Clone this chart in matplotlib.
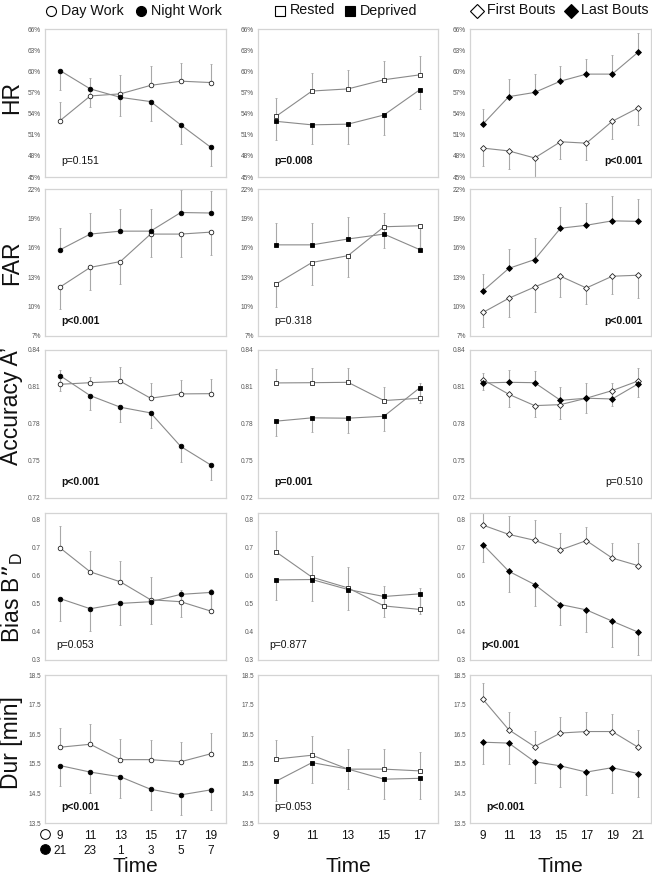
import numpy as np
import matplotlib
matplotlib.use("Agg")
from matplotlib import pyplot as plt
from matplotlib.lines import Line2D

plt.rcParams['font.family'] = ['Liberation Sans', 'DejaVu Sans']

# time points
t_work = [9, 11, 13, 15, 17, 19]
t_sleep = [9, 11, 13, 15, 17]
t_bouts = [9, 11, 13, 15, 17, 19, 21]
night_clock = ['21', '23', '1', '3', '5', '7']

# HR (%)
hr_day = [53.0, 56.5, 56.8, 58.0, 58.6, 58.4]
hr_day_err = [2.6, 2.6, 2.7, 2.7, 2.6, 2.7]
hr_night = [60.1, 57.5, 56.3, 55.7, 52.4, 49.2]
hr_night_err = [2.7, 2.6, 2.7, 2.7, 2.7, 2.7]
hr_rested = [53.6, 57.2, 57.5, 58.8, 59.5]
hr_rested_err = [2.6, 2.6, 2.7, 2.7, 2.7]
hr_deprived = [52.9, 52.4, 52.5, 53.8, 57.4]
hr_deprived_err = [2.7, 2.7, 2.75, 2.8, 2.8]
hr_first = [49.1, 48.7, 47.7, 50.0, 49.8, 52.9, 54.8]
hr_first_err = [2.5, 2.5, 2.7, 2.4, 2.4, 2.5, 2.4]
hr_last = [52.5, 56.4, 57.0, 58.6, 59.6, 59.6, 62.7]
hr_last_err = [2.1, 2.5, 2.6, 2.1, 2.2, 2.75, 2.7]

# FAR (%)
far_day = [12.0, 14.0, 14.6, 17.4, 17.4, 17.6]
far_day_err = [2.25, 2.3, 2.3, 2.3, 2.3, 2.3]
far_night = [15.8, 17.4, 17.7, 17.7, 19.6, 19.55]
far_night_err = [2.2, 2.2, 2.3, 2.3, 2.3, 2.2]
far_rested = [12.3, 14.5, 15.2, 18.15, 18.25]
far_rested_err = [2.3, 2.3, 2.2, 2.2, 2.2]
far_deprived = [16.3, 16.3, 16.9, 17.4, 15.8]
far_deprived_err = [2.2, 2.2, 2.2, 2.2, 2.2]
far_first = [9.4, 10.85, 12.0, 13.1, 11.9, 13.1, 13.2]
far_first_err = [1.5, 1.95, 2.5, 2.1, 1.6, 1.85, 2.3]
far_last = [11.6, 13.9, 14.8, 18.0, 18.3, 18.75, 18.7]
far_last_err = [1.7, 2.0, 2.15, 2.2, 2.3, 2.55, 2.3]

# Accuracy A'
acc_day = [0.8122, 0.8135, 0.8146, 0.8009, 0.8044, 0.8046]
acc_day_err = [0.0116, 0.0043, 0.012, 0.012, 0.0113, 0.012]
acc_night = [0.8192, 0.803, 0.7936, 0.789, 0.7618, 0.7467]
acc_night_err = [0.0124, 0.0119, 0.012, 0.012, 0.0124, 0.012]
acc_rested = [0.8133, 0.8135, 0.8138, 0.799, 0.8009]
acc_rested_err = [0.0113, 0.012, 0.0113, 0.0113, 0.012]
acc_deprived = [0.7823, 0.785, 0.7847, 0.7863, 0.8095]
acc_deprived_err = [0.012, 0.0116, 0.012, 0.0116, 0.0124]
acc_first = [0.816, 0.8041, 0.7949, 0.7957, 0.8009, 0.8071, 0.8149]
acc_first_err = [0.0084, 0.010, 0.0094, 0.0113, 0.0116, 0.0127, 0.013]
acc_last = [0.8133, 0.8138, 0.8135, 0.7992, 0.8009, 0.8003, 0.8125]
acc_last_err = [0.008, 0.010, 0.0095, 0.0108, 0.012, 0.013, 0.0126]

# Bias B''D
bias_day = [0.698, 0.613, 0.5775, 0.514, 0.507, 0.4735]
bias_day_err = [0.077, 0.0755, 0.0755, 0.079, 0.043, 0.078]
bias_night = [0.518, 0.482, 0.501, 0.507, 0.533, 0.540]
bias_night_err = [0.079, 0.079, 0.078, 0.078, 0.079, 0.074]
bias_rested = [0.684, 0.594, 0.556, 0.492, 0.4795]
bias_rested_err = [0.0755, 0.0745, 0.0755, 0.072, 0.0745]
bias_deprived = [0.5845, 0.5857, 0.5503, 0.5255, 0.535]
bias_deprived_err = [0.073, 0.0745, 0.073, 0.0745, 0.073]
bias_first = [0.779, 0.746, 0.725, 0.691, 0.724, 0.662, 0.635]
bias_first_err = [0.045, 0.064, 0.072, 0.061, 0.0485, 0.0545, 0.0815]
bias_last = [0.710, 0.615, 0.568, 0.497, 0.478, 0.438, 0.399]
bias_last_err = [0.061, 0.073, 0.078, 0.071, 0.077, 0.093, 0.083]

# Dur [min]
dur_day = [16.06, 16.16, 15.64, 15.64, 15.57, 15.84]
dur_day_err = [0.66, 0.67, 0.69, 0.68, 0.66, 0.70]
dur_night = [15.44, 15.22, 15.06, 14.64, 14.45, 14.62]
dur_night_err = [0.69, 0.70, 0.70, 0.69, 0.68, 0.67]
dur_rested = [15.66, 15.79, 15.32, 15.32, 15.26]
dur_rested_err = [0.66, 0.66, 0.68, 0.67, 0.65]
dur_deprived = [14.91, 15.54, 15.32, 14.98, 15.01]
dur_deprived_err = [0.65, 0.69, 0.67, 0.67, 0.70]
dur_first = [17.68, 16.65, 16.08, 16.54, 16.59, 16.59, 16.06]
dur_first_err = [0.54, 0.59, 0.54, 0.55, 0.65, 0.60, 0.58]
dur_last = [16.23, 16.2, 15.57, 15.43, 15.22, 15.37, 15.17]
dur_last_err = [0.73, 0.69, 0.72, 0.73, 0.76, 0.85, 0.78]

row_names = ["HR", "FAR", "Accuracy A\u2019", "Bias B\u201d$_\\mathregular{D}$", "Dur [min]"]
group_names = [("Day Work", "Night Work"), ("Rested", "Deprived"),
               ("First Bouts", "Last Bouts")]
p_labels = [["p=0.151", "p=0.008", "p<0.001"],
            ["p<0.001", "p=0.318", "p<0.001"],
            ["p<0.001", "p=0.001", "p=0.510"],
            ["p=0.053", "p=0.877", "p<0.001"],
            ["p<0.001", "p=0.053", "p<0.001"]]
p_bold = [[False, True, True], [True, False, True], [True, True, False],
          [False, False, True], [True, False, True]]
# does the open-symbol series carry the upward error bar?
open_up = [[True, True, False], [False, False, False], [True, True, False],
           [True, True, True], [True, True, True]]

data = [
    [(hr_day, hr_day_err, hr_night, hr_night_err),
     (hr_rested, hr_rested_err, hr_deprived, hr_deprived_err),
     (hr_first, hr_first_err, hr_last, hr_last_err)],
    [(far_day, far_day_err, far_night, far_night_err),
     (far_rested, far_rested_err, far_deprived, far_deprived_err),
     (far_first, far_first_err, far_last, far_last_err)],
    [(acc_day, acc_day_err, acc_night, acc_night_err),
     (acc_rested, acc_rested_err, acc_deprived, acc_deprived_err),
     (acc_first, acc_first_err, acc_last, acc_last_err)],
    [(bias_day, bias_day_err, bias_night, bias_night_err),
     (bias_rested, bias_rested_err, bias_deprived, bias_deprived_err),
     (bias_first, bias_first_err, bias_last, bias_last_err)],
    [(dur_day, dur_day_err, dur_night, dur_night_err),
     (dur_rested, dur_rested_err, dur_deprived, dur_deprived_err),
     (dur_first, dur_first_err, dur_last, dur_last_err)],
]
times = [t_work, t_sleep, t_bouts]
markers = ['o', 's', 'D']
msizes = [3.3, 3.5, 3.0]
leg_ms = [7.2, 7.0, 6.8]
xlims = [(8, 20), (8, 18), (8, 22)]

yticks = [[45, 48, 51, 54, 57, 60, 63, 66],
          [7, 10, 13, 16, 19, 22],
          [0.72, 0.75, 0.78, 0.81, 0.84],
          [0.3, 0.4, 0.5, 0.6, 0.7, 0.8],
          [13.5, 14.5, 15.5, 16.5, 17.5, 18.5]]
ylims = [(45, 66), (7, 22), (0.72, 0.84), (0.3, 0.822), (13.5, 18.5)]
yfmt = ['{:.0f}%', '{:.0f}%', '{:.2f}', '{:.1f}', '{:.1f}']

W, H = 652.0, 875.0
col_left = [45, 258, 470]
col_right = [226, 438, 651]
row_top = [29, 189, 350, 513, 675]
row_bot = [177, 336, 498, 660, 823]
label_y = [97, 263, 406, 598, 743]
# legend key centres (px) for open / filled symbol in each column
leg_x = [(51, 141), (280, 350), (477, 571)]

fig = plt.figure(figsize=(W / 100, H / 100), dpi=100)

line_c = '#8a8a8a'
err_c = '#a8a8a8'
spine_c = '#d4d4d4'

for r in range(5):
    for c in range(3):
        ax = fig.add_axes([col_left[c] / W, 1 - row_bot[r] / H,
                           (col_right[c] - col_left[c]) / W,
                           (row_bot[r] - row_top[r]) / H])
        t = times[c]
        o_val, o_err, f_val, f_err = data[r][c]
        zeros = np.zeros(len(t))
        if open_up[r][c]:
            o_yerr = [zeros, o_err]
            f_yerr = [f_err, zeros]
        else:
            o_yerr = [o_err, zeros]
            f_yerr = [zeros, f_err]
        ax.errorbar(t, o_val, yerr=o_yerr, fmt='none', ecolor=err_c,
                    elinewidth=0.8, capsize=1.0, capthick=0.6, zorder=1)
        ax.errorbar(t, f_val, yerr=f_yerr, fmt='none', ecolor=err_c,
                    elinewidth=0.8, capsize=1.0, capthick=0.6, zorder=1)
        ax.plot(t, o_val, color=line_c, lw=0.8, zorder=2)
        ax.plot(t, f_val, color=line_c, lw=0.8, zorder=2)
        ax.plot(t, o_val, ls='none', marker=markers[c], ms=msizes[c],
                mfc='white', mec='#222222', mew=0.6, zorder=3)
        ax.plot(t, f_val, ls='none', marker=markers[c], ms=msizes[c],
                mfc='black', mec='black', mew=0.6, zorder=3)

        ax.set_xlim(*xlims[c])
        ax.set_ylim(*ylims[r])
        ax.set_yticks(yticks[r])
        ax.set_yticklabels([yfmt[r].format(v) for v in yticks[r]])
        ax.tick_params(axis='y', length=0, labelsize=4.7, labelcolor='#555555', pad=3)
        ax.tick_params(axis='x', length=0, labelsize=8.5, labelcolor='#111111', pad=5)
        for s in ax.spines.values():
            s.set_color(spine_c)
            s.set_linewidth(0.9)
        if r == 4:
            ax.set_xticks(t)
            if c == 0:
                ax.set_xticklabels(['%d\n%s' % (a, b) for a, b in zip(t, night_clock)],
                                   linespacing=1.3)
            else:
                ax.set_xticklabels([str(a) for a in t])
        else:
            ax.set_xticks([])

        # p value
        right = (r < 3 and c == 2)
        if right:
            px, ha = 0.955, 'right'
        elif r == 3:
            px, ha = 0.06, 'left'
        else:
            px, ha = 0.088, 'left'
        ax.text(px, 0.105, p_labels[r][c], transform=ax.transAxes, ha=ha, va='center',
                fontsize=7.5, fontweight='bold' if p_bold[r][c] else 'normal',
                color='#111111')

    # row label
    fig.text(12 / W, 1 - label_y[r] / H, row_names[r], rotation=90, ha='center',
             va='center', fontsize=16.5, color='#111111')

# legends above columns, "Time" below
for c in range(3):
    for k, face in enumerate(['white', 'black']):
        x0 = leg_x[c][k]
        fig.add_artist(Line2D([x0 / W], [1 - 10.5 / H], transform=fig.transFigure,
                              ls='none', marker=markers[c], ms=leg_ms[c],
                              mfc=face, mec='black', mew=0.8))
        fig.text((x0 + 10) / W, 1 - 10.5 / H, group_names[c][k], ha='left',
                 va='center', fontsize=10.3, color='#111111')
    xc = (col_left[c] + col_right[c]) / 2 / W
    fig.text(xc, 1 - 866 / H, "Time", ha='center', va='center',
             fontsize=15, color='#111111')

# symbol keys for the two clock-time rows
fig.add_artist(Line2D([45 / W], [1 - 834 / H], transform=fig.transFigure, ls='none',
                      marker='o', ms=7, mfc='white', mec='black', mew=0.7))
fig.add_artist(Line2D([45 / W], [1 - 849 / H], transform=fig.transFigure, ls='none',
                      marker='o', ms=7, mfc='black', mec='black', mew=0.7))

fig.savefig("out.png", dpi=100)
